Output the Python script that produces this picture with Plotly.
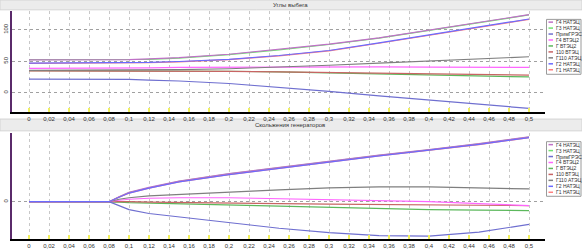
import plotly.graph_objects as go

W, H = 582, 249

t = [0, 0.08, 0.09, 0.1, 0.12, 0.15, 0.2, 0.25, 0.3, 0.35, 0.4, 0.45, 0.5]

names = ["Г4 НАТЭЦ", "Г3 НАТЭЦ", "ПримГРЭС", "Г4 ВТЭЦ2", "Г ВТЭЦ2",
         "110 ВТЭЦ", "Г110 АТЭЦ", "Г2 НАТЭЦ", "Г1 НАТЭЦ"]
colors = ["#c070c8", "#70e070", "#6f6fd0", "#ff66ff", "#5cb85c",
          "#c86464", "#7f7f7f", "#6b6bff", "#ff7f7f"]

# Углы выбега (angles)
ang_g4_natec = [52, 52, 52, 52.5, 53.5, 55.5, 61, 68.5, 77, 87, 99, 112, 124]
ang_g3_natec = [52.6, 52.6, 52.3, 52, 53, 55, 60.5, 68, 76.5, 86.5, 98.5, 111.5, 123.5]
ang_prim_gres = [21.5, 21.5, 21.5, 21, 20, 18.5, 14.5, 8.5, 2, -5, -12, -18.5, -25]
ang_g4_vtec2 = [38.5, 38.5, 38.7, 39, 39.5, 40, 40.5, 41, 41, 41, 40.5, 40.2, 40]
ang_g_vtec2 = [35, 35, 35, 35, 34.8, 34.5, 34, 33, 31.5, 30, 28.5, 26.5, 25]
ang_110_vtec = [34.5, 34.5, 34.5, 34.5, 34.4, 34.2, 33.7, 33, 32, 31, 30, 29, 28]
ang_g110_atec = [35.5, 35.5, 35.5, 35.6, 36, 36.6, 38, 40.5, 43.5, 47, 50.5, 54, 57]
ang_g2_natec = [47, 47, 47, 47.5, 48, 49.5, 53, 59, 67, 79, 92, 104.5, 117]
ang_g1_natec = [46.6, 46.6, 46.6, 47, 47.5, 49, 52.5, 58.5, 66.5, 78.5, 91.5, 104, 116.5]

# Скольжения генераторов (slips)
s_g4_natec = [0, 0, 5, 9.5, 14.5, 21, 28.5, 35, 41, 47.5, 53, 59, 66]
s_g3_natec = [0, 0, 4.8, 9.2, 14.2, 20.7, 28.2, 34.7, 40.7, 47.2, 52.7, 58.7, 65.7]
s_prim_gres = [0, 0, -4, -8, -12, -15.5, -21, -27, -31.5, -34.5, -35, -31, -23]
s_g4_vtec2 = [0, 0, 1.5, 2.5, 3.5, 4, 4, 3, 2, 1, 0, -2, -4]
s_g_vtec2 = [0, 0, -0.5, -1, -1.5, -2, -3, -4, -5.5, -7, -8, -8.5, -9]
s_110_vtec = [0, 0, 0.3, 0, -0.5, -1, -1.5, -2, -2.5, -3, -3.5, -4, -4]
s_g110_atec = [0, 0, 2.5, 4, 6, 7.5, 9.5, 12, 14, 15, 15, 14, 13]
s_g2_natec = [0, 0, 4.6, 8.8, 13.8, 20.2, 27.6, 34.2, 40.2, 46.6, 52.2, 58.2, 65.2]
s_g1_natec = [0, 0, 4.5, 8.7, 13.7, 20.1, 27.5, 34.1, 40.1, 46.5, 52.1, 58.1, 65.1]

ang = [ang_g4_natec, ang_g3_natec, ang_prim_gres, ang_g4_vtec2, ang_g_vtec2,
       ang_110_vtec, ang_g110_atec, ang_g2_natec, ang_g1_natec]
slp = [s_g4_natec, s_g3_natec, s_prim_gres, s_g4_vtec2, s_g_vtec2,
       s_110_vtec, s_g110_atec, s_g2_natec, s_g1_natec]

titles = ["Углы выбега", "Скольжения генераторов"]
x_ticks = [round(0.02 * i, 2) for i in range(26)]

draw_order = [1, 0, 4, 5, 3, 6, 2, 8, 7]

fig = go.Figure()
for i in draw_order:
    fig.add_trace(go.Scatter(x=t, y=ang[i], mode="lines", name=names[i],
                             line=dict(color=colors[i], width=1.2),
                             xaxis="x", yaxis="y", showlegend=False))
for i in draw_order:
    fig.add_trace(go.Scatter(x=t, y=slp[i], mode="lines", name=names[i],
                             line=dict(color=colors[i], width=1.2),
                             xaxis="x2", yaxis="y2", showlegend=False))


def px(x):
    return x / W


def py(y):
    return 1 - y / H


xdom = [px(12), px(545)]
top_dom = [py(114), py(11)]
bot_dom = [py(243), py(135)]

xcommon = dict(range=[-0.017, 0.516], tickvals=x_ticks, showgrid=True,
               gridcolor="#c8c8c8", griddash="dot", gridwidth=1,
               showline=True, linecolor="#000000", linewidth=1.5,
               ticks="inside", tickcolor="#f0f060", ticklen=4, tickwidth=2,
               tickfont=dict(size=6, color="#333333", family="Liberation Sans"),
               zeroline=False, fixedrange=True, domain=xdom)
ycommon = dict(showgrid=True, gridcolor="#a0a0a0", griddash="dot", gridwidth=1,
               showline=True, linecolor="#5a2a6a", linewidth=2,
               tickangle=-90, ticks="",
               tickfont=dict(size=6, color="#333333", family="Liberation Sans"),
               zeroline=False, fixedrange=True)

shapes = []
annotations = []

# title bands
for (y0, y1), title in zip([(0, 10), (121, 133)], titles):
    shapes.append(dict(type="rect", xref="paper", yref="paper",
                       x0=0, x1=1, y0=py(y1), y1=py(y0),
                       fillcolor="#ececec", line=dict(color="#d4d4d4", width=1),
                       layer="below"))
    annotations.append(dict(xref="paper", yref="paper", x=px(290), y=py((y0 + y1) / 2),
                            text=title, showarrow=False,
                            font=dict(size=6, color="#333333", family="Liberation Sans"),
                            xanchor="center", yanchor="middle"))

# manual legends
for box_top, box_bot, first_y in [(19.7, 75.5, 22.5), (144, 199.5, 147)]:
    shapes.append(dict(type="rect", xref="paper", yref="paper",
                       x0=px(546.5), x1=px(581), y0=py(box_bot), y1=py(box_top),
                       fillcolor="#ffffff", line=dict(color="#9a9a9a", width=1)))
    for k, (nm, col) in enumerate(zip(names, colors)):
        yy = first_y + k * 6.05
        shapes.append(dict(type="line", xref="paper", yref="paper",
                           x0=px(548.5), x1=px(553), y0=py(yy), y1=py(yy),
                           line=dict(color=col, width=1.5)))
        annotations.append(dict(xref="paper", yref="paper", x=px(554), y=py(yy),
                                text=nm, showarrow=False,
                                font=dict(size=5, color="#333333", family="Liberation Sans"),
                                xanchor="left", yanchor="middle"))

fig.update_layout(
    width=W, height=H,
    margin=dict(l=0, r=0, t=0, b=0),
    paper_bgcolor="#ffffff", plot_bgcolor="#ffffff",
    separators=", ",
    showlegend=False,
    xaxis=dict(anchor="y", **xcommon),
    yaxis=dict(anchor="x", domain=top_dom, range=[-31, 130], tickvals=[0, 50, 100], **ycommon),
    xaxis2=dict(anchor="y2", **xcommon),
    yaxis2=dict(anchor="x2", domain=bot_dom, range=[-38, 70], tickvals=[0], **ycommon),
    shapes=shapes,
    annotations=annotations,
)

fig.write_html("out.html")
